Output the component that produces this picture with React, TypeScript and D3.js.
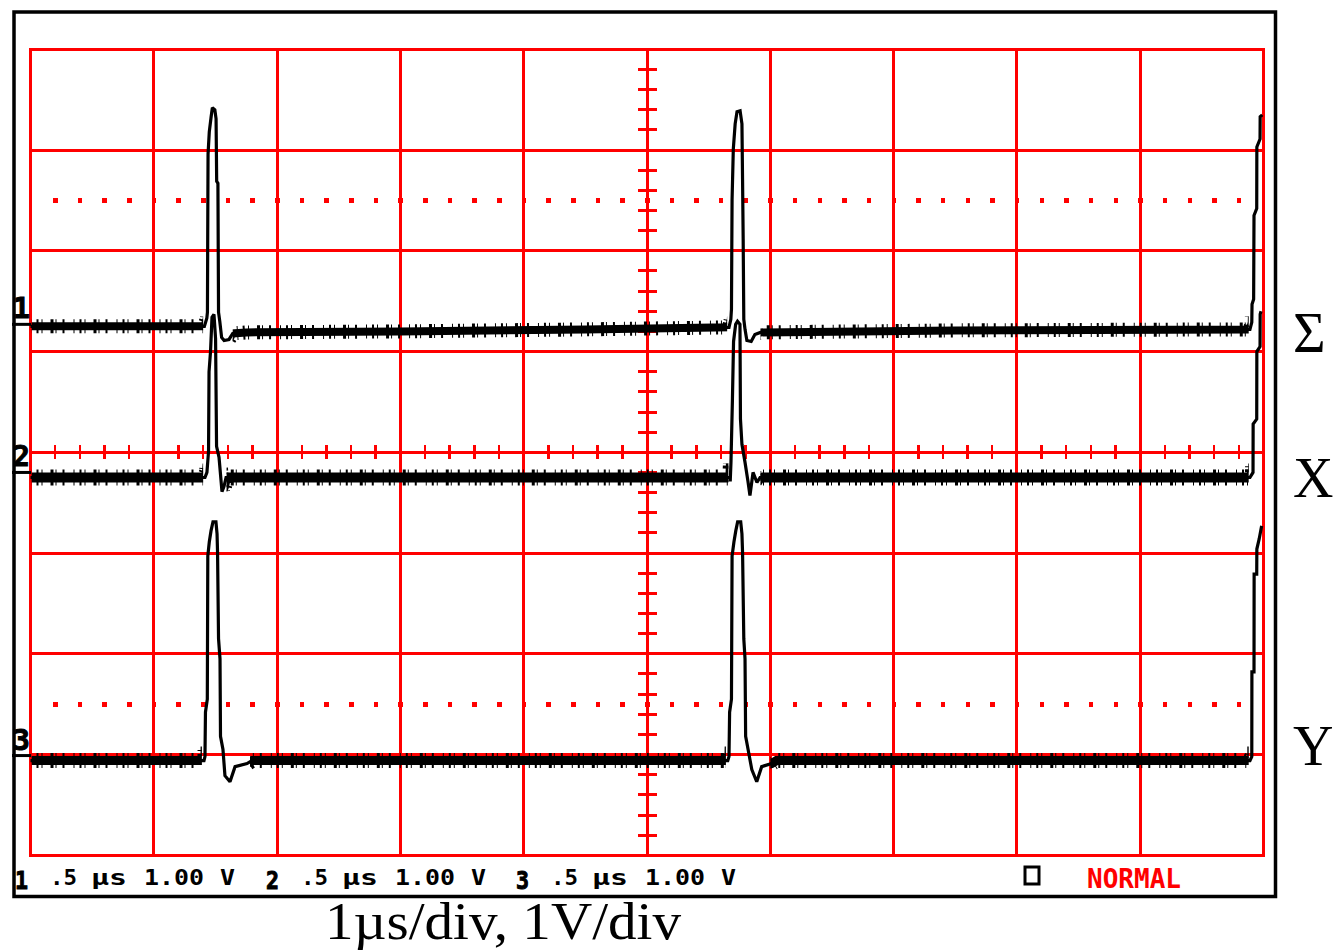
import React from "react";
import * as d3 from "d3";

// ---- data (time in µs, 1 µs/div; voltage in V, 1 V/div) ----
const timeDomain: [number, number] = [0, 10];
const voltDomain: [number, number] = [-4, 4];
const dottedLevels = [2.5, -2.5];

const sigmaTrace: [number, number][] = [
  [0, 1.25], [1.41, 1.25], [1.43, 1.33], [1.435, 1.39], [1.44, 2.96], [1.45, 3.18], [1.465, 3.33],
  [1.475, 3.42], [1.495, 3.4], [1.505, 3.31], [1.51, 2.69], [1.52, 2.67], [1.525, 1.39], [1.535, 1.3],
  [1.55, 1.14], [1.57, 1.11], [1.61, 1.12], [1.64, 1.18], [1.75, 1.19], [3.0, 1.2], [4.5, 1.22],
  [5.665, 1.24], [5.68, 1.32], [5.685, 1.42], [5.69, 2.51], [5.7, 3.01], [5.715, 3.26], [5.73, 3.38],
  [5.755, 3.39], [5.77, 3.26], [5.775, 2.71], [5.78, 2.12], [5.785, 1.32], [5.795, 1.22], [5.81, 1.11],
  [5.845, 1.1], [5.875, 1.17], [5.92, 1.19], [7.5, 1.21], [9.89, 1.22], [9.905, 1.29], [9.907, 1.47],
  [9.92, 1.52], [9.923, 2.35], [9.945, 2.42], [9.946, 3.03], [9.972, 3.11], [9.973, 3.33], [9.99, 3.35],
];

const xTrace: [number, number][] = [
  [0, -0.25], [1.415, -0.25], [1.431, -0.2], [1.444, 0.01], [1.448, 0.8], [1.46, 1.0], [1.472, 1.34],
  [1.488, 1.37], [1.501, 1.13], [1.509, 0.06], [1.529, -0.05], [1.553, -0.39], [1.569, -0.34],
  [1.586, -0.25], [3.0, -0.25], [5.673, -0.25], [5.675, -0.29], [5.681, -0.1], [5.693, 0.53],
  [5.702, 1.1], [5.719, 1.27], [5.734, 1.3], [5.754, 1.27], [5.758, 0.33], [5.77, 0.08], [5.795, -0.1],
  [5.819, -0.29], [5.835, -0.43], [5.86, -0.2], [5.892, -0.3], [5.917, -0.25], [9.89, -0.25],
  [9.915, -0.2], [9.916, 0.28], [9.945, 0.33], [9.946, 1.0], [9.972, 1.05], [9.973, 1.37], [9.98, 1.4],
];

const yTrace: [number, number][] = [
  [0, -3.06], [1.407, -3.06], [1.415, -3.02], [1.419, -2.58], [1.434, -2.45], [1.438, -1.03],
  [1.45, -0.89], [1.464, -0.78], [1.48, -0.69], [1.504, -0.69], [1.513, -0.81], [1.517, -0.99],
  [1.525, -1.85], [1.537, -2.05], [1.541, -2.82], [1.561, -2.95], [1.577, -3.21], [1.618, -3.27],
  [1.659, -3.12], [1.756, -3.09], [1.796, -3.06], [4.0, -3.06], [5.655, -3.06], [5.665, -3.02],
  [5.67, -2.58], [5.685, -2.45], [5.69, -1.03], [5.705, -0.89], [5.72, -0.78], [5.735, -0.69],
  [5.76, -0.69], [5.77, -0.81], [5.775, -0.99], [5.785, -1.85], [5.795, -2.05], [5.8, -2.82],
  [5.82, -2.95], [5.85, -3.15], [5.89, -3.27], [5.93, -3.12], [6.01, -3.09], [6.05, -3.06],
  [9.89, -3.06], [9.905, -3.02], [9.906, -2.18], [9.923, -2.18], [9.924, -1.21], [9.945, -1.21],
  [9.946, -0.96], [9.965, -0.86], [9.985, -0.73],
];

// flat (noisy) baseline stretches of each trace, in µs, and their levels in V
const sigmaNoiseSpans: [number, number][] = [[0.01, 1.4], [1.64, 5.65], [5.92, 9.88]];
const xNoiseSpans: [number, number][] = [[0.01, 1.4], [1.59, 5.66], [5.92, 9.88]];
const yNoiseSpans: [number, number][] = [[0.01, 1.39], [1.78, 5.64], [6.0, 9.88]];
const baselineLevels = [1.21, -0.25, -3.06];

const traceNames = ["Σ", "X", "Y"];
const channelIds = ["1", "2", "3"];
const channelGround = [1.27, -0.2, -3.01];
const timebaseLabel = ".5 µs";
const voltsLabel = "1.00";
const unitLabel = "V";
const modeLabel = "NORMAL";
const caption = "1µs/div, 1V/div";

export default function App() {
  const x = d3.scaleLinear().domain(timeDomain).range([30.5, 1263.5]);
  const y = d3.scaleLinear().domain(voltDomain).range([855.3, 49.3]);
  const line = d3
    .line<[number, number]>()
    .x((d) => x(d[0]))
    .y((d) => y(d[1]));

  const majorT = x.ticks(10);
  const majorV = y.ticks(8);
  const minorT = d3.range(0, 50).map((i) => i * 0.2).filter((t) => t > 0);
  const minorV = d3.range(-20, 21).map((i) => i * 0.2).filter((v) => v > -4 && v < 4);

  const red = "#ff0000";
  const traces = [
    { data: sigmaTrace, spans: sigmaNoiseSpans, band: 8 },
    { data: xTrace, spans: xNoiseSpans, band: 10 },
    { data: yTrace, spans: yNoiseSpans, band: 9 },
  ];
  const rightLabelY = [352, 497, 765];
  const chStart = [15, 266, 516];
  const mono = "'DejaVu Sans Mono', 'Liberation Mono', monospace";
  const serif = "'Liberation Serif', 'DejaVu Serif', serif";

  return (
    <svg
      width={1336}
      height={951}
      style={{ position: "absolute", left: 0, top: 0, background: "#fff" }}
    >
      <defs>
        {traces.map((tr, i) => (
          <clipPath id={`noise-${i}`} key={i}>
            {tr.spans.map((s, j) => (
              <rect
                key={j}
                x={x(s[0])}
                y={y(baselineLevels[i]) - 14}
                width={x(s[1]) - x(s[0])}
                height={28}
              />
            ))}
          </clipPath>
        ))}
      </defs>

      {/* outer frame */}
      <rect x={14} y={12} width={1261.5} height={884.5} fill="none" stroke="#000" strokeWidth={3.5} />

      {/* grid */}
      <g stroke={red} strokeWidth={3} shapeRendering="crispEdges">
        {majorT.map((t) => (
          <line key={`vt${t}`} x1={x(t)} x2={x(t)} y1={y(4)} y2={y(-4)} />
        ))}
        {majorV.map((v) => (
          <line key={`hv${v}`} x1={x(0) - 1.5} x2={x(10) + 1.5} y1={y(v)} y2={y(v)} />
        ))}
        {minorV.map((v) => (
          <line key={`mv${v}`} x1={x(5) - 9.5} x2={x(5) + 9.5} y1={y(v)} y2={y(v)} />
        ))}
        {minorT.map((t) => (
          <line key={`mt${t}`} x1={x(t)} x2={x(t)} y1={y(0) - 7} y2={y(0) + 7} strokeWidth={2.5} />
        ))}
      </g>
      <g fill={red} shapeRendering="crispEdges">
        {dottedLevels.map((v) =>
          minorT.map((t) => (
            <rect key={`d${v}-${t}`} x={x(t) - 2} y={y(v) - 2} width={4.5} height={4.5} />
          ))
        )}
      </g>

      {/* traces */}
      <g fill="none" stroke="#000" strokeLinejoin="miter" strokeMiterlimit={2}>
        {traces.map((tr, i) => (
          <g key={i}>
            <path d={line(tr.data) || ""} strokeWidth={3.2} />
            <path d={line(tr.data) || ""} strokeWidth={tr.band} clipPath={`url(#noise-${i})`} />
            <path
              d={line(tr.data) || ""}
              strokeWidth={tr.band + 6}
              strokeDasharray="1 5 2 3 1 8 3 2 1 6 2 9"
              clipPath={`url(#noise-${i})`}
            />
          </g>
        ))}
      </g>

      {/* channel markers on left */}
      {channelIds.map((c, i) => (
        <g key={`m${c}`}>
          <line x1={12} x2={31} y1={y(channelGround[i])} y2={y(channelGround[i])} stroke="#000" strokeWidth={3} />
          <text
            x={13}
            y={y(channelGround[i]) - 6}
            fontFamily={mono}
            fontWeight="bold"
            fontSize={28}
            fill="#000"
            stroke="#000"
            strokeWidth={1}
          >
            {c}
          </text>
        </g>
      ))}

      {/* right trace names */}
      {traceNames.map((n, i) => (
        <text key={n} x={1293} y={rightLabelY[i]} fontFamily={serif} fontSize={56} fill="#000">
          {n}
        </text>
      ))}

      {/* status line */}
      <g fontFamily={mono} fontWeight="bold" fill="#000">
        {channelIds.map((c, i) => (
          <g key={`s${c}`}>
            <text
              x={chStart[i]}
              y={889}
              fontSize={25}
              textLength={13}
              lengthAdjust="spacingAndGlyphs"
              stroke="#000"
              strokeWidth={1}
            >
              {c}
            </text>
            <text x={chStart[i] + 35} y={885} fontSize={21} textLength={27} lengthAdjust="spacingAndGlyphs">
              {timebaseLabel.split(" ")[0]}
            </text>
            <text x={chStart[i] + 76} y={885} fontSize={21} textLength={36} lengthAdjust="spacingAndGlyphs">
              {timebaseLabel.split(" ")[1]}
            </text>
            <text x={chStart[i] + 129} y={885} fontSize={21} textLength={60} lengthAdjust="spacingAndGlyphs">
              {voltsLabel}
            </text>
            <text x={chStart[i] + 205} y={885} fontSize={21} textLength={15} lengthAdjust="spacingAndGlyphs">
              {unitLabel}
            </text>
          </g>
        ))}
      </g>
      <rect x={1025} y={867} width={14} height={17} fill="none" stroke="#000" strokeWidth={3} />
      <text
        x={1087}
        y={888}
        fontFamily={mono}
        fontWeight="bold"
        fontSize={27}
        fill={red}
        textLength={94}
        lengthAdjust="spacingAndGlyphs"
      >
        {modeLabel}
      </text>

      {/* caption */}
      <text
        x={325}
        y={939}
        fontFamily={serif}
        fontSize={52}
        fill="#000"
        textLength={356}
        lengthAdjust="spacingAndGlyphs"
      >
        {caption}
      </text>
    </svg>
  );
}
